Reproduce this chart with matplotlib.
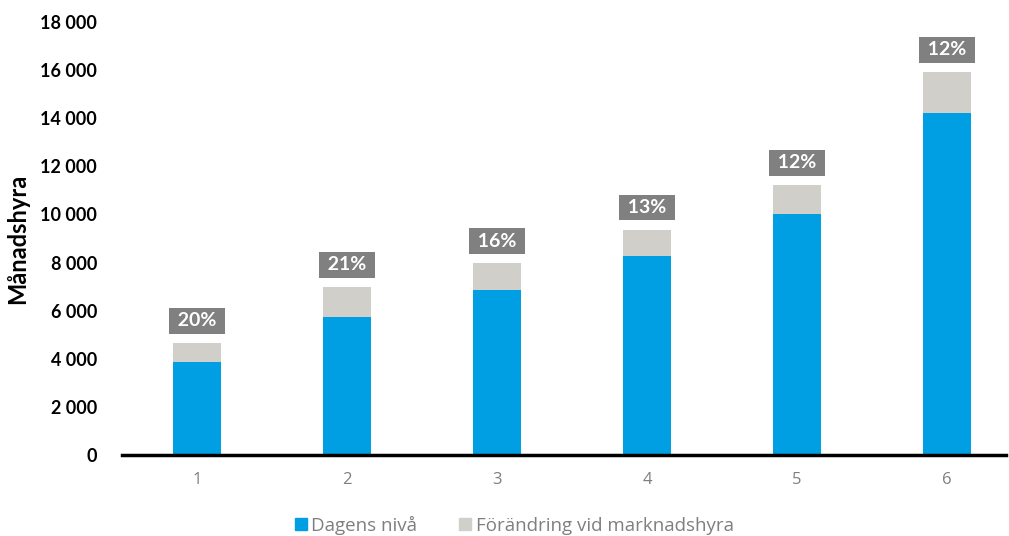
import matplotlib
matplotlib.use("Agg")
import matplotlib.pyplot as plt
from matplotlib.patches import Patch

categories = ["1", "2", "3", "4", "5", "6"]
dagens = [3870, 5740, 6860, 8270, 10020, 14210]
forandring = [780, 1240, 1110, 1100, 1200, 1710]
pct_labels = ["20%", "21%", "16%", "13%", "12%", "12%"]
yticks = [0, 2000, 4000, 6000, 8000, 10000, 12000, 14000, 16000, 18000]

plt.rcParams['font.family'] = ['Lato', 'DejaVu Sans']

fig = plt.figure(figsize=(10.09, 5.36), dpi=100)
W, H = 1009, 536
axw = 1005.5 - 122
ax = fig.add_axes([122 / W, (536 - 455) / H, axw / W, (455 - 22) / H])

blue = "#009FE3"
grey = "#D0CFCA"
x = list(range(len(categories)))
ax.bar(x, dagens, width=0.32, color=blue, label="Dagens nivå", zorder=2)
ax.bar(x, forandring, width=0.32, bottom=dagens, color=grey,
       label="Förändring vid marknadshyra", zorder=2)

for i, (d, f, p) in enumerate(zip(dagens, forandring, pct_labels)):
    ax.annotate(" " + p + " ", xy=(i, d + f), xytext=(0, 16), textcoords="offset points",
                ha="center", va="center", color="white", fontsize=14, fontweight="bold",
                bbox=dict(boxstyle="square,pad=0.22", fc="#808080", ec="none"))

ax.set_xlim(-0.5, 5.39)
ax.set_ylim(0, 18000)
ax.set_yticks(yticks)
ax.set_yticklabels([f"{v:,}".replace(",", " ") for v in yticks],
                   fontsize=13, fontweight="bold", color="black")
ax.set_xticks(x)
ax.set_xticklabels(categories, fontsize=12, color="#7F7F7F", family=["Open Sans", "DejaVu Sans"])
ax.tick_params(axis="y", length=0, pad=18)
ax.tick_params(axis="x", length=0, pad=12)
for s in ["top", "right", "left"]:
    ax.spines[s].set_visible(False)
ax.spines["bottom"].set_linewidth(2.5)
ax.spines["bottom"].set_color("black")
ax.spines["bottom"].set_zorder(3)
ax.set_ylabel("Månadshyra", fontsize=17, fontweight="bold")
ax.yaxis.set_label_coords((29 - 122) / axw, 0.5)

handles = [Patch(color=blue), Patch(color=grey)]
fig.legend(handles, ["Dagens nivå", "Förändring vid marknadshyra"],
           loc="center", bbox_to_anchor=(514 / W, 1 - 525 / H), ncol=2, frameon=False,
           prop={"family": ["Open Sans", "DejaVu Sans"], "size": 13.5},
           labelcolor="#7F7F7F", handlelength=0.65, handleheight=0.65,
           handletextpad=0.25, columnspacing=2.2)

fig.savefig("out.png", dpi=100)
